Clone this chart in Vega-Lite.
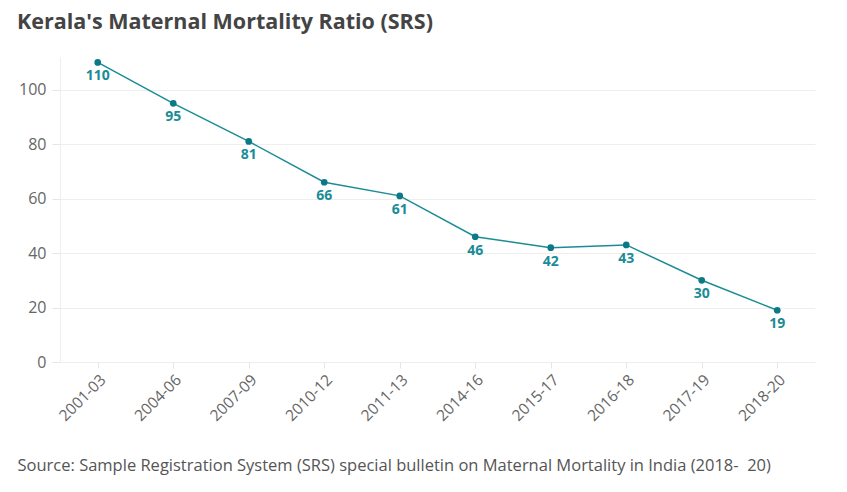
{
  "$schema": "https://vega.github.io/schema/vega-lite/v6.json",
  "autosize": "none",
  "width": 755,
  "height": 305,
  "padding": {"left": 60, "top": 57, "right": 32, "bottom": 130},
  "background": "white",
  "title": {
    "text": "Kerala's Maternal Mortality Ratio (SRS)",
    "anchor": "start",
    "frame": "group",
    "dx": -43,
    "offset": 24,
    "font": "Open Sans",
    "fontSize": 21.5,
    "fontWeight": "bold",
    "color": "#444444"
  },
  "data": {
    "values": [
      {"period": "2001-03", "mmr": 110},
      {"period": "2004-06", "mmr": 95},
      {"period": "2007-09", "mmr": 81},
      {"period": "2010-12", "mmr": 66},
      {"period": "2011-13", "mmr": 61},
      {"period": "2014-16", "mmr": 46},
      {"period": "2015-17", "mmr": 42},
      {"period": "2016-18", "mmr": 43},
      {"period": "2017-19", "mmr": 30},
      {"period": "2018-20", "mmr": 19}
    ]
  },
  "encoding": {
    "x": {
      "field": "period",
      "type": "ordinal",
      "sort": null,
      "scale": {"type": "point", "padding": 0.5},
      "axis": {
        "title": "Source: Sample Registration System (SRS) special bulletin on Maternal Mortality in India (2018-\u00a0 20)",
        "titleAnchor": "start",
        "titleAlign": "left",
        "titleBaseline": "middle",
        "titleX": -43,
        "titleY": 103,
        "titleFont": "Open Sans",
        "titleFontSize": 16.5,
        "titleFontWeight": "normal",
        "titleColor": "#555555",
        "labelAngle": -45,
        "labelFont": "Open Sans",
        "labelFontSize": 15.5,
        "labelColor": "#666666",
        "labelPadding": 4,
        "domain": false,
        "tickColor": "#e6e6e6",
        "tickSize": 6,
        "grid": false
      }
    },
    "y": {
      "field": "mmr",
      "type": "quantitative",
      "scale": {"domain": [0, 112], "nice": false},
      "axis": {
        "title": null,
        "values": [0, 20, 40, 60, 80, 100],
        "labelFont": "Open Sans",
        "labelFontSize": 16,
        "labelColor": "#666666",
        "labelPadding": 6,
        "domain": true,
        "domainColor": "#eeeeee",
        "tickColor": "#e6e6e6",
        "tickSize": 8,
        "grid": true,
        "gridColor": "#eeeeee"
      }
    }
  },
  "layer": [
    {"mark": {"type": "line", "color": "#1a8c96", "strokeWidth": 1.5}},
    {"mark": {"type": "point", "filled": true, "opacity": 1, "size": 45, "color": "#0b7a85"}},
    {
      "mark": {"type": "text", "dy": 14, "font": "Open Sans", "fontSize": 14, "fontWeight": "bold", "color": "#1a8c96"},
      "encoding": {"text": {"field": "mmr", "type": "quantitative"}}
    }
  ],
  "config": {"view": {"stroke": null}}
}
